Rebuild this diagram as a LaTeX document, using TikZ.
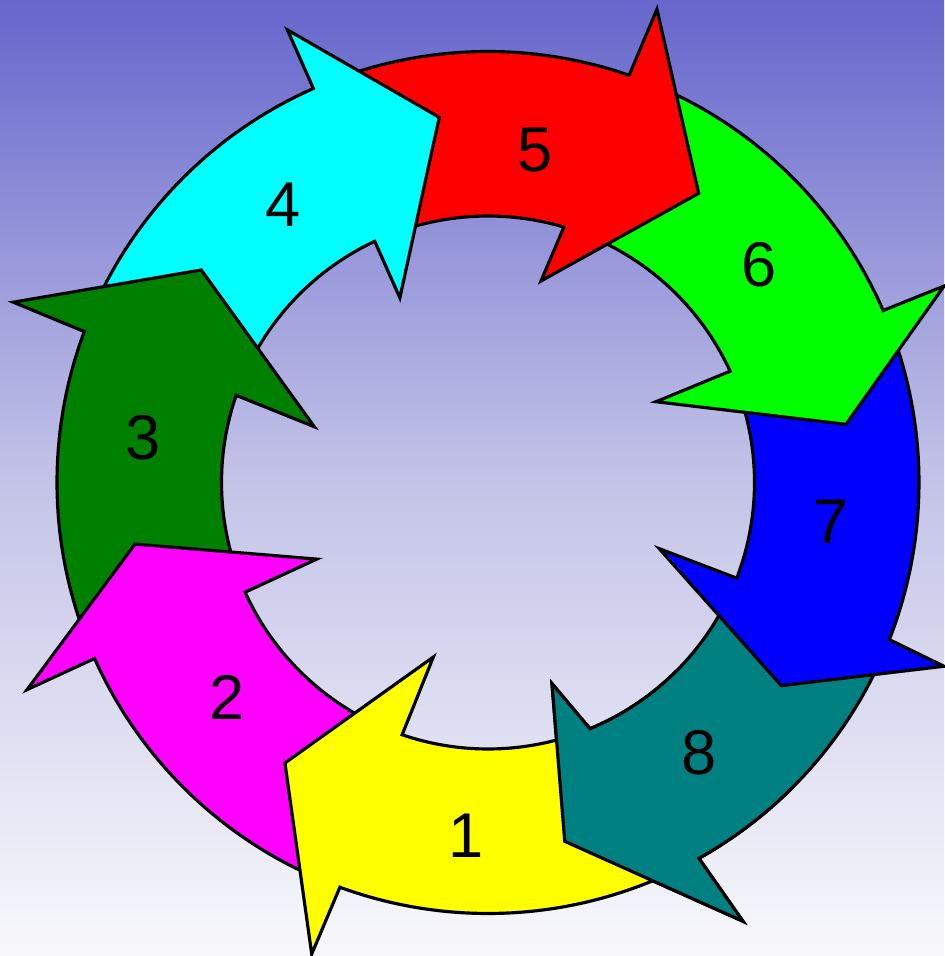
\documentclass[tikz,border=0pt]{standalone}
\usepackage{fontspec}
\setmainfont{Liberation Sans}
\definecolor{bgtop}{RGB}{102,102,204}
\definecolor{bgmid}{RGB}{195,195,232}
\definecolor{bgbottom}{RGB}{248,248,252}
\definecolor{stepyellow}{RGB}{255,255,0}
\definecolor{stepmagenta}{RGB}{255,0,255}
\definecolor{stepgreen}{RGB}{0,128,0}
\definecolor{stepcyan}{RGB}{0,255,255}
\definecolor{stepred}{RGB}{255,0,0}
\definecolor{steplime}{RGB}{0,255,0}
\definecolor{stepblue}{RGB}{0,0,255}
\definecolor{stepteal}{RGB}{0,128,128}
\newcommand{\ringout}{431}
\newcommand{\ringin}{266.5}
\newcommand{\cyclearrow}[8]{%
  \filldraw[arrowline,fill=#1]
    (#2:\ringout) arc[start angle=#2,end angle=#3,radius=\ringout]
    -- (#4) -- (#5) -- (#6)
    -- (#7:\ringin) arc[start angle=#7,end angle=#8,radius=\ringin] -- cycle;}
\begin{document}
\begin{tikzpicture}[x=0.02cm,y=0.02cm,
    arrowline/.style={draw=black,line width=1.8pt,line join=miter},
    numlabel/.style={font=\fontsize{36}{43}\selectfont,inner sep=0pt}]
\useasboundingbox (-488,-473.5) rectangle (456,482.5);
\shade[top color=bgtop,bottom color=bgbottom,middle color=bgmid]
  (-488,-473.5) rectangle (456,482.5);
\cyclearrow{stepteal}{-24.38}{-60.7}{-59.84:507.5}{-77.93:366.9}{-72.35:211.1}{-67.5}{-24.04}
\cyclearrow{stepblue}{20.52}{-21.38}{-21.95:491.6}{-34.71:356.8}{-21.13:183.6}{-21.04}{21.68}
\cyclearrow{steplime}{67.88}{23.52}{23.3:496.5}{9.23:362.7}{25.68:186.4}{24.68}{70.45}
\cyclearrow{stepred}{110.9}{70.88}{70.35:502.5}{53.92:357.8}{75.26:208.4}{73.45}{112.15}
\cyclearrow{stepcyan}{156.5}{113.9}{113.9:495}{97.6:368.4}{115.5:204.7}{115.15}{157.9}
\cyclearrow{stepgreen}{201.1}{159.5}{159.2:507.8}{143.45:356.9}{162.2:182.4}{160.9}{201.3}
\cyclearrow{stepmagenta}{246.9}{204.1}{204.2:505.3}{189.9:358.3}{204.1:187.6}{204.3}{248.2}
\cyclearrow{stepyellow}{296.3}{249.9}{249.5:503.4}{234.1:346.3}{252.6:182.9}{251.2}{289.5}
\begin{scope}
  \clip (0,0) -- (-45:600) arc[start angle=-45,end angle=-100,radius=600] -- cycle;
  \cyclearrow{stepteal}{-24.38}{-60.7}{-59.84:507.5}{-77.93:366.9}{-72.35:211.1}{-67.5}{-24.04}
\end{scope}
\node[numlabel] (lab1) at (-22,-353.7) {1};
\node[numlabel] (lab2) at (-261.3,-214.7) {2};
\node[numlabel] (lab3) at (-344.5,45) {3};
\node[numlabel] (lab4) at (-205,277.5) {4};
\node[numlabel] (lab5) at (47.3,332.8) {5};
\node[numlabel] (lab6) at (271.5,218) {6};
\node[numlabel] (lab7) at (343.5,-38.8) {7};
\node[numlabel] (lab8) at (211.5,-270.2) {8};
\end{tikzpicture}
\end{document}
